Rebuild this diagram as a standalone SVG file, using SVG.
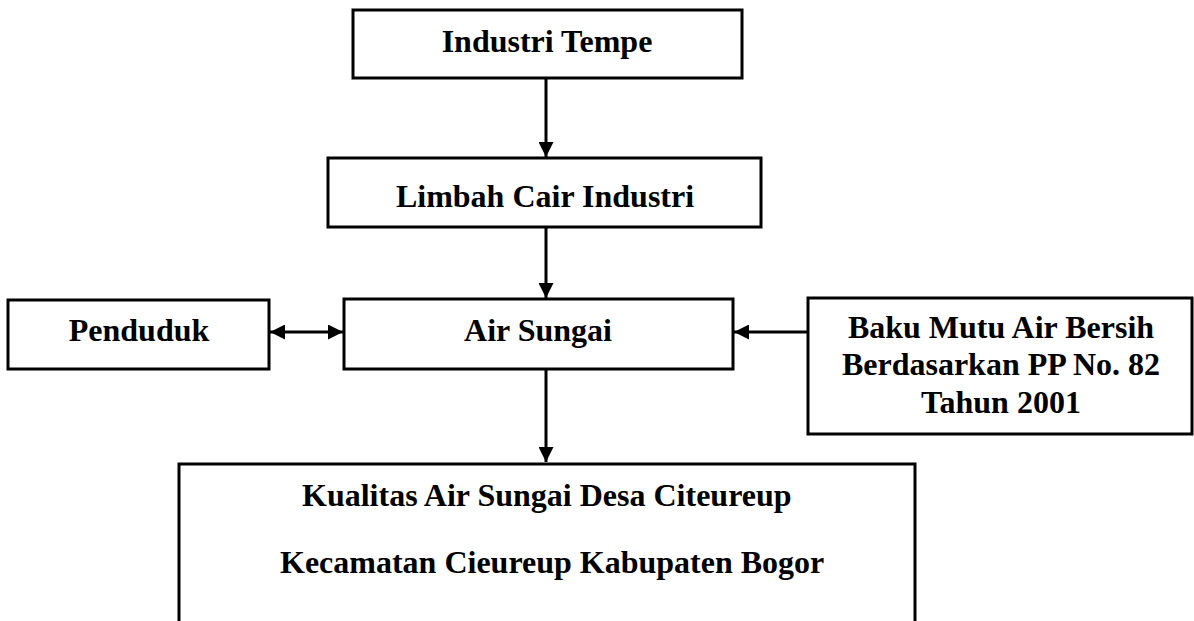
<svg xmlns="http://www.w3.org/2000/svg" width="1194" height="621" viewBox="0 0 1194 621">
<defs>
<style>
.box{fill:#fff;stroke:#000;stroke-width:3}
.t{font-family:"Liberation Serif","Times New Roman",serif;font-weight:bold;font-size:32px;fill:#000;text-anchor:middle}
.s{text-anchor:start}
.c{stroke:#000;stroke-width:3;fill:none}
</style>
<marker id="ah" viewBox="0 0 10 10" refX="10" refY="5" markerWidth="5" markerHeight="5" orient="auto-start-reverse" markerUnits="strokeWidth">
<path d="M0,0 L10,5 L0,10 Z" fill="#000"/>
</marker>
</defs>
<rect width="1194" height="621" fill="#fff"/>
<g id="connectors">
<line class="c" x1="546" y1="78" x2="546" y2="157" marker-end="url(#ah)"/>
<line class="c" x1="546" y1="227" x2="546" y2="298" marker-end="url(#ah)"/>
<line class="c" x1="270" y1="332" x2="343" y2="332" marker-start="url(#ah)" marker-end="url(#ah)"/>
<line class="c" x1="808" y1="332" x2="734" y2="332" marker-end="url(#ah)"/>
<line class="c" x1="546" y1="369" x2="546" y2="462" marker-end="url(#ah)"/>
</g>
<g id="industri-tempe">
<rect class="box" x="353" y="10" width="389" height="68"/>
<text class="t" x="547" y="52">Industri Tempe</text>
</g>
<g id="limbah-cair">
<rect class="box" x="328" y="158" width="433" height="69"/>
<text class="t" x="545" y="207">Limbah Cair Industri</text>
</g>
<g id="penduduk">
<rect class="box" x="8" y="300" width="261" height="69"/>
<text class="t" x="139" y="341">Penduduk</text>
</g>
<g id="air-sungai">
<rect class="box" x="344" y="299" width="389" height="70"/>
<text class="t" x="538" y="341">Air Sungai</text>
</g>
<g id="baku-mutu">
<rect class="box" x="808" y="298" width="384" height="136"/>
<text class="t" x="1001" y="338">Baku Mutu Air Bersih</text>
<text class="t" x="1001" y="375">Berdasarkan PP No. 82</text>
<text class="t" x="1001" y="413">Tahun 2001</text>
</g>
<g id="kualitas">
<rect class="box" x="179" y="464" width="736" height="170"/>
<text class="t s" x="302" y="506">Kualitas Air Sungai Desa Citeureup</text>
<text class="t s" x="280" y="573">Kecamatan Cieureup Kabupaten Bogor</text>
</g>
</svg>
